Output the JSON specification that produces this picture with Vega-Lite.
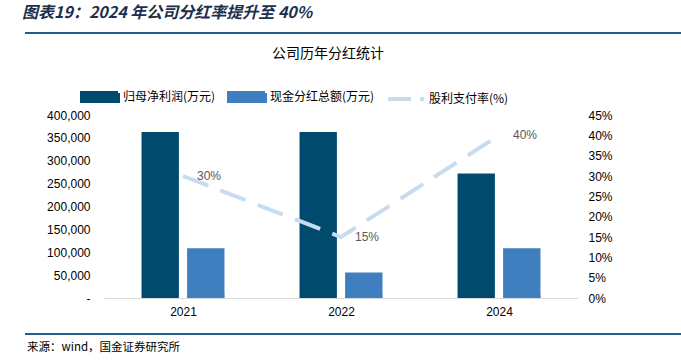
{
  "$schema": "https://vega.github.io/schema/vega-lite/v6.json",
  "autosize": {"type": "pad"},
  "padding": {"left": 22, "top": 5, "right": 0, "bottom": 0},
  "background": "white",
  "spacing": 12,
  "config": {"view": {"stroke": null}, "font": "Liberation Sans"},
  "resolve": {"scale": {"color": "independent"}, "legend": {"color": "independent"}},
  "datasets": {
    "bars": [
      {"year": "2021", "series": "归母净利润(万元)", "value": 363000},
      {"year": "2021", "series": "现金分红总额(万元)", "value": 109000},
      {"year": "2022", "series": "归母净利润(万元)", "value": 363000},
      {"year": "2022", "series": "现金分红总额(万元)", "value": 56000},
      {"year": "2024", "series": "归母净利润(万元)", "value": 272000},
      {"year": "2024", "series": "现金分红总额(万元)", "value": 109000}
    ],
    "rate": [
      {"year": "2021", "series": "股利支付率(%)", "rate": 0.30},
      {"year": "2022", "series": "股利支付率(%)", "rate": 0.15},
      {"year": "2024", "series": "股利支付率(%)", "rate": 0.40}
    ],
    "frame": [{"start": 0, "end": 1, "level": 0}]
  },
  "vconcat": [
    {
      "width": 474,
      "height": 7,
      "title": {
        "text": "图表19：2024 年公司分红率提升至 40%",
        "anchor": "start",
        "frame": "group",
        "dx": -82,
        "offset": 7,
        "font": "Noto Sans CJK SC",
        "fontSize": 16,
        "fontStyle": "italic",
        "fontWeight": "bold",
        "color": "#1c2f4d"
      },
      "data": {"name": "frame"},
      "layer": [
        {
          "mark": {"type": "bar", "color": "#245d8c", "height": 2},
          "encoding": {
            "x": {"field": "start", "type": "quantitative", "scale": {"domain": [0.12043, 0.84299], "zero": false, "nice": false}, "axis": null},
            "x2": {"field": "end"},
            "y": {"field": "level", "type": "quantitative", "scale": {"domain": [0, 1], "reverse": true}, "axis": null}
          }
        }
      ]
    },
    {
      "width": 474,
      "height": 183,
      "title": {
        "text": "公司历年分红统计",
        "anchor": "middle",
        "dx": -13,
        "offset": 16,
        "font": "Noto Sans CJK SC",
        "fontSize": 14,
        "fontWeight": "normal",
        "color": "#000000"
      },
      "layer": [
        {
          "data": {"name": "bars"},
          "mark": {"type": "bar"},
          "encoding": {
            "x": {
              "field": "year",
              "type": "nominal",
              "scale": {"paddingInner": 0.475, "paddingOuter": 0.2375},
              "axis": {
                "title": null,
                "labelAngle": 0,
                "labelFont": "Liberation Sans",
                "labelFontSize": 12,
                "labelColor": "#000000",
                "labelPadding": 13,
                "domainColor": "#d9d9d9",
                "tickColor": "#d9d9d9",
                "tickBand": "extent",
                "tickSize": -5,
                "grid": false
              }
            },
            "xOffset": {
              "field": "series",
              "type": "nominal",
              "scale": {"paddingInner": 0.18, "paddingOuter": 0}
            },
            "y": {
              "field": "value",
              "type": "quantitative",
              "scale": {"domain": [0, 400000]},
              "axis": {
                "orient": "left",
                "title": null,
                "values": [0, 50000, 100000, 150000, 200000, 250000, 300000, 350000, 400000],
                "labelExpr": "datum.value === 0 ? '-' : format(datum.value, ',')",
                "labelOverlap": false,
                "domain": false,
                "ticks": false,
                "grid": false,
                "labelPadding": 14,
                "labelFont": "Liberation Sans",
                "labelFontSize": 12,
                "labelColor": "#000000"
              }
            },
            "color": {
              "field": "series",
              "type": "nominal",
              "scale": {
                "domain": ["归母净利润(万元)", "现金分红总额(万元)", "股利支付率(%)"],
                "range": ["#004a6e", "#407fbf", "#c8dcf0"]
              },
              "legend": {
                "orient": "none",
                "legendX": -24,
                "legendY": -38,
                "direction": "horizontal",
                "title": null,
                "symbolSize": 1296,
                "symbolStrokeWidth": 4,
                "symbolType": "M-1,-0.22H1V0.22H-1Z",
                "labelFont": "Noto Sans CJK SC",
                "labelFontSize": 12,
                "labelColor": "#000000",
                "labelOffset": 3,
                "columnPadding": 5,
                "encode": {
                  "symbols": {
                    "update": {
                      "shape": {"signal": "datum.value === '股利支付率(%)' ? 'stroke' : 'M-1,-0.22H1V0.22H-1Z'"},
                      "fill": {"signal": "datum.value === '股利支付率(%)' ? 'transparent' : scale('color', datum.value)"},
                      "stroke": {"signal": "datum.value === '股利支付率(%)' ? '#c8dcf0' : 'transparent'"},
                      "strokeDash": {"signal": "datum.value === '股利支付率(%)' ? [23, 9] : [1, 0]"},
                      "opacity": {"value": 1}
                    }
                  }
                }
              }
            }
          }
        },
        {
          "data": {"name": "rate"},
          "encoding": {
            "x": {"field": "year", "type": "nominal"},
            "y": {
              "field": "rate",
              "type": "quantitative",
              "scale": {"domain": [0, 0.45]},
              "axis": {
                "orient": "right",
                "title": null,
                "values": [0, 0.05, 0.1, 0.15, 0.2, 0.25, 0.3, 0.35, 0.4, 0.45],
                "format": ".0%",
                "labelOverlap": false,
                "domain": false,
                "ticks": false,
                "grid": false,
                "labelPadding": 10,
                "labelFont": "Liberation Sans",
                "labelFontSize": 12,
                "labelColor": "#000000"
              }
            }
          },
          "layer": [
            {
              "mark": {"type": "line", "strokeWidth": 4, "strokeDash": [27, 13], "strokeCap": "butt"},
              "encoding": {
                "color": {"field": "series", "type": "nominal"}
              }
            },
            {
              "mark": {"type": "text", "align": "left", "baseline": "middle", "dx": 14, "font": "Liberation Sans", "fontSize": 12, "color": "#595959"},
              "encoding": {
                "text": {"field": "rate", "type": "quantitative", "format": ".0%"}
              }
            }
          ]
        }
      ],
      "resolve": {"scale": {"y": "independent"}}
    },
    {
      "width": 474,
      "height": 8,
      "title": {
        "text": "来源：wind，国金证券研究所",
        "orient": "bottom",
        "anchor": "start",
        "frame": "group",
        "dx": -77,
        "offset": 5,
        "font": "Noto Sans CJK SC",
        "fontSize": 11.5,
        "fontWeight": "normal",
        "color": "#000000"
      },
      "data": {"name": "frame"},
      "layer": [
        {
          "mark": {"type": "bar", "color": "#245d8c", "height": 2},
          "encoding": {
            "x": {"field": "start", "type": "quantitative", "scale": {"domain": [0.12043, 0.84299], "zero": false, "nice": false}, "axis": null},
            "x2": {"field": "end"},
            "y": {"field": "level", "type": "quantitative", "scale": {"domain": [0, 1], "reverse": true}, "axis": null}
          }
        }
      ]
    }
  ]
}
